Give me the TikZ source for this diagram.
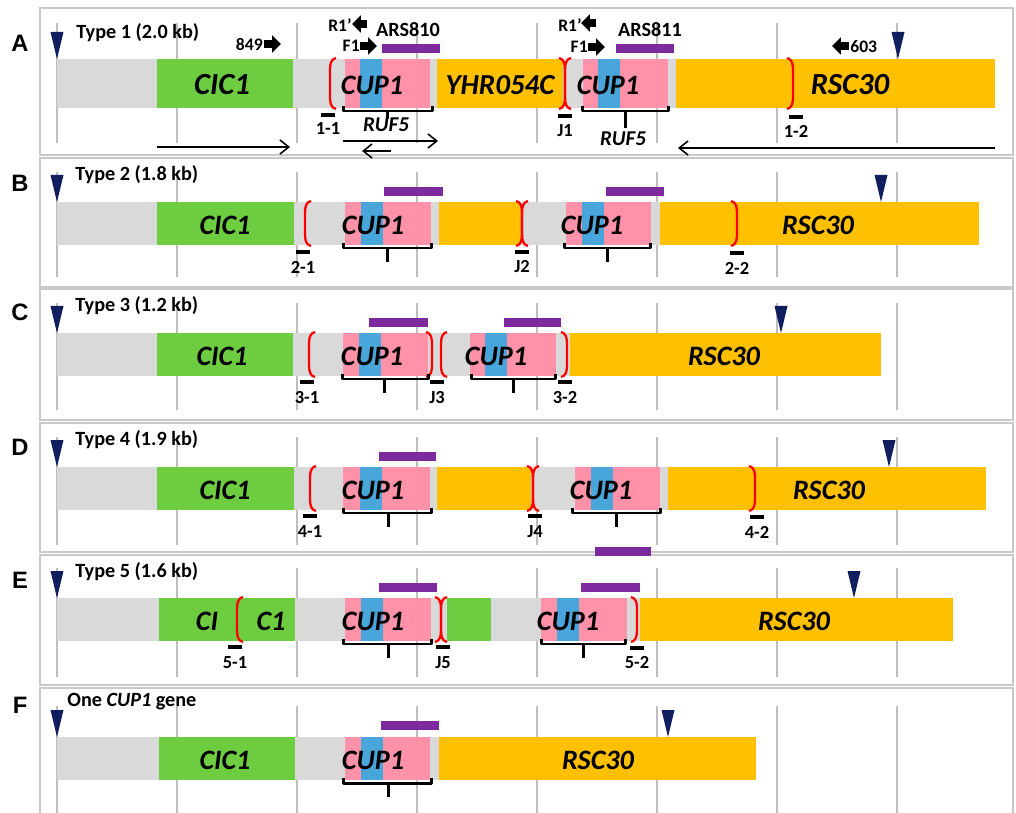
\documentclass[tikz,border=0pt]{standalone}
\usepackage{fontspec}
\setmainfont{Carlito}
\newfontfamily\panelfont{Liberation Sans}
\usetikzlibrary{arrows.meta}
\definecolor{bargray}{RGB}{217,217,217}
\definecolor{genegreen}{RGB}{110,204,64}
\definecolor{cuppink}{RGB}{255,146,168}
\definecolor{cupblue}{RGB}{72,166,218}
\definecolor{geneorange}{RGB}{255,192,0}
\definecolor{arspurple}{RGB}{125,42,158}
\definecolor{sitenavy}{RGB}{16,30,96}
\definecolor{gridgray}{RGB}{190,190,190}
\definecolor{framegray}{RGB}{200,200,200}

\begin{document}
\begin{tikzpicture}[x=0.02cm, y=-0.02cm,
    frame/.style={draw=framegray, line width=1.4pt},
    gridline/.style={draw=gridgray, line width=0.6pt},
    paren/.style={draw=red, line width=1.3pt},
    cupbrace/.style={draw=black, line width=1.7pt, line join=round},
    sitemark/.style={draw=black, line width=2.2pt},
    primer/.style={line width=4.6pt, -{Triangle[length=5pt,width=9.5pt]}},
    readarrow/.style={line width=0.9pt, -{Straight Barb[length=5pt,width=8pt]}},
    gene/.style={font=\fontsize{16}{16}\selectfont\bfseries\itshape, inner sep=0pt},
    bigGene/.style={font=\fontsize{17.5}{17.5}\selectfont\bfseries\itshape, inner sep=0pt},
    ruf/.style={font=\fontsize{12}{12}\selectfont\bfseries\itshape, inner sep=0pt},
    typelab/.style={font=\fontsize{11.5}{12}\selectfont\bfseries, inner sep=0pt, anchor=west},
    sitelab/.style={font=\fontsize{10.5}{11}\selectfont\bfseries, inner sep=0pt},
    primerlab/.style={font=\fontsize{10}{10}\selectfont\bfseries, inner sep=0pt},
    arslab/.style={font=\fontsize{11.5}{12}\selectfont\bfseries, inner sep=0pt},
    panel/.style={font=\panelfont\fontsize{13.5}{13.5}\selectfont\bfseries, inner sep=0pt}]
    \useasboundingbox (0,0) rectangle (1016,813);

    % Panel frames
    \foreach \ya/\yb in {8/155, 158/287, 289/420, 423/552, 555/685}
    {
        \draw[frame] (40,\ya) rectangle (1013,\yb);
    }
    \draw[frame] (40,830) -- (40,688) -- (1013,688) -- (1013,830);

    % Grid lines
    \foreach \ya/\yb in {23/143, 172/277, 303/410, 437/545, 568/677, 706/813}
    {
        \foreach \x in {57,177,...,897}
            \draw[gridline] (\x,\ya) -- (\x,\yb);
    }

    % Panel letters
    \foreach \l/\y in {A/43, B/183, C/312, D/447, E/580, F/705}
    {
        \node[panel] (panel\l) at (20,\y) {\l};
    }

    % Bars (colour / start / end / top / height)
    \foreach \c/\a/\e/\t/\h in {bargray/57/676/59/49, genegreen/157/293/59/49,
        geneorange/437/563/59/49, geneorange/676/995/59/49,
        bargray/57/660/202/43, genegreen/157/294/202/43,
        geneorange/439/521/202/43, geneorange/660/979/202/43,
        bargray/57/570/333/43, genegreen/157/293/333/43, geneorange/570/881/333/43,
        bargray/57/668/467/43, genegreen/157/294/467/43,
        geneorange/437/531/467/43, geneorange/668/986/467/43,
        bargray/57/640/598/43, genegreen/159/295/598/43,
        genegreen/447/491/598/43, geneorange/640/953/598/43,
        bargray/57/439/737/43, genegreen/159/295/737/43, geneorange/439/756/737/43}
    {
        \fill[\c] (\a,\t) rectangle (\e,\t+\h);
    }

    % CUP1 repeats
    \foreach \a/\b/\e/\t/\h in {345/360/430/59/49, 583/598/668/59/49,
        345/361/431/202/43, 566/582/651/202/43,
        343/359/428/333/43, 470/485/556/333/43,
        343/360/430/467/43, 575/591/660/467/43,
        345/361/431/598/43, 541/557/627/598/43,
        345/361/430/737/43}
    {
        \fill[cuppink] (\a,\t) rectangle (\e,\t+\h);
        \fill[cupblue] (\b,\t) rectangle (\b+22,\t+\h);
    }

    % ARS bars
    \foreach \a/\e/\y in {382/440/44, 616/674/44, 384/443/187, 606/664/187,
        369/428/318, 504/561/318, 379/436/452, 595/651/547,
        379/437/583, 581/640/583, 381/439/721}
    {
        \fill[arspurple] (\a,\y) rectangle (\e,\y+9);
    }

    % Breakpoints, left half
    \foreach \x/\t/\h in {330/59/49, 565/59/49, 305/202/43, 522/202/43,
        309/333/43, 441/333/43, 310/467/43, 533/467/43, 237/598/43, 441/598/43}
    {
        \draw[paren] (\x+6,\t-1) .. controls (\x+1,\t) and (\x,\t+5) .. (\x,\t+11)
            -- (\x,\t+\h-11) .. controls (\x,\t+\h-5) and (\x+1,\t+\h) .. (\x+6,\t+\h+1);
    }
    % Breakpoints, right half
    \foreach \x/\t/\h in {565/59/49, 793/59/49, 522/202/43, 737/202/43,
        432/333/43, 567/333/43, 533/467/43, 755/467/43, 441/598/43, 637/598/43}
    {
        \draw[paren] (\x-6,\t-1) .. controls (\x-1,\t) and (\x,\t+5) .. (\x,\t+11)
            -- (\x,\t+\h-11) .. controls (\x,\t+\h-5) and (\x-1,\t+\h) .. (\x-6,\t+\h+1);
    }

    % Restriction sites
    \foreach \x/\t in {57/59, 898/59, 57/202, 881/202, 57/333, 781/333,
        57/467, 889/467, 57/598, 854/598, 57/737, 668/737}
    {
        \fill[sitenavy] (\x-6.5,\t-27) -- (\x+6.5,\t-27) -- (\x,\t) -- cycle;
    }

    % RUF5 brackets
    \foreach \a/\e/\m/\y/\s in {343/432/387/111/119, 582/668/625/111/128,
        343/431/387/248/262, 564/650/607/248/262,
        342/428/384/379/393, 471/555/513/379/393,
        343/431/388/513/527, 572/660/616/513/527,
        343/431/388/644/658, 541/625/583/644/658,
        343/431/388/783/797}
    {
        \draw[cupbrace] (\a,\y-5) -- (\a,\y) -- (\e,\y) -- (\e,\y-5) (\m,\y) -- (\m,\s);
    }

    % Junction probes
    \foreach \x/\d/\y/\t in {328/1-1/115/129, 565/J1/116/131, 796/1-2/117/131,
        303/2-1/252/267, 522/J2/252/267, 737/2-2/253/268,
        307/3-1/382/398, 437/J3/382/398, 565/3-2/382/398,
        310/4-1/516/532, 535/J4/516/532, 757/4-2/517/532,
        235/5-1/647/663, 443/J5/647/663, 637/5-2/648/663}
    {
        \draw[sitemark] (\x-7,\y) -- (\x+7,\y);
        \node[sitelab] (site-\d) at (\x,\t) {\d};
    }

    % Type labels
    \node[typelab] (typeA) at (76,33) {Type 1 (2.0 kb)};
    \node[typelab] (typeB) at (75,175) {Type 2 (1.8 kb)};
    \node[typelab] (typeC) at (75,306) {Type 3 (1.2 kb)};
    \node[typelab] (typeD) at (75,440) {Type 4 (1.9 kb)};
    \node[typelab] (typeE) at (75,572) {Type 5 (1.6 kb)};
    \node[typelab] (typeF) at (67,702) {One \textit{CUP1} gene};

    % Gene names
    \node[bigGene] (cicA) at (222,85) {CIC1};
    \node[gene] (cupA1) at (372,85) {CUP1};
    \node[gene, font=\fontsize{16.5}{16.5}\selectfont\bfseries\itshape] (yhrA) at (500,85) {YHR054C};
    \node[gene] (cupA2) at (608,85) {CUP1};
    \node[bigGene] (rscA) at (850,85) {RSC30};
    \node[gene] (cicB) at (225,225) {CIC1};
    \node[gene] (cupB1) at (373,225) {CUP1};
    \node[gene] (cupB2) at (592,225) {CUP1};
    \node[gene] (rscB) at (818,225) {RSC30};
    \node[gene] (cicC) at (222,356) {CIC1};
    \node[gene] (cupC1) at (372,356) {CUP1};
    \node[gene] (cupC2) at (496,356) {CUP1};
    \node[gene] (rscC) at (724,356) {RSC30};
    \node[gene] (cicD) at (225,490) {CIC1};
    \node[gene] (cupD1) at (373,490) {CUP1};
    \node[gene] (cupD2) at (601,490) {CUP1};
    \node[gene] (rscD) at (829,490) {RSC30};
    \node[gene] (ciE) at (207,621) {CI};
    \node[gene] (c1E) at (271,621) {C1};
    \node[gene] (cupE1) at (373,621) {CUP1};
    \node[gene] (cupE2) at (568,621) {CUP1};
    \node[gene] (rscE) at (794,621) {RSC30};
    \node[gene] (cicF) at (225,760) {CIC1};
    \node[gene] (cupF) at (373,760) {CUP1};
    \node[gene] (rscF) at (598,760) {RSC30};

    % Primers and ARS names in A
    \node[arslab] (ars810) at (408,30) {ARS810};
    \node[arslab] (ars811) at (650,30) {ARS811};
    \node[primerlab, anchor=east] (p849) at (263,45) {849};
    \draw[primer] (264,44) -- (281,44);
    \draw[primer] (849,46) -- (832,46);
    \node[primerlab, anchor=west] (p603) at (850,47) {603};
    \node[primerlab, anchor=east] (r1a) at (352,25) {R1'};
    \draw[primer] (367,24) -- (352,24);
    \node[primerlab, anchor=east] (f1a) at (360,46) {F1};
    \draw[primer] (360,46) -- (377,46);
    \node[primerlab, anchor=east] (r1b) at (582,25) {R1'};
    \draw[primer] (596,23) -- (581,23);
    \node[primerlab, anchor=east] (f1b) at (588,47) {F1};
    \draw[primer] (588,47) -- (605,47);

    % RUF5 names and transcripts
    \node[ruf] (rufA1) at (386,125) {RUF5};
    \node[ruf] (rufA2) at (623,139) {RUF5};
    \draw[readarrow] (157,147) -- (290,147);
    \draw[readarrow] (343,141) -- (438,141);
    \draw[readarrow] (391,151) -- (362,151);
    \draw[readarrow] (995,148) -- (678,148);
\end{tikzpicture}
\end{document}
